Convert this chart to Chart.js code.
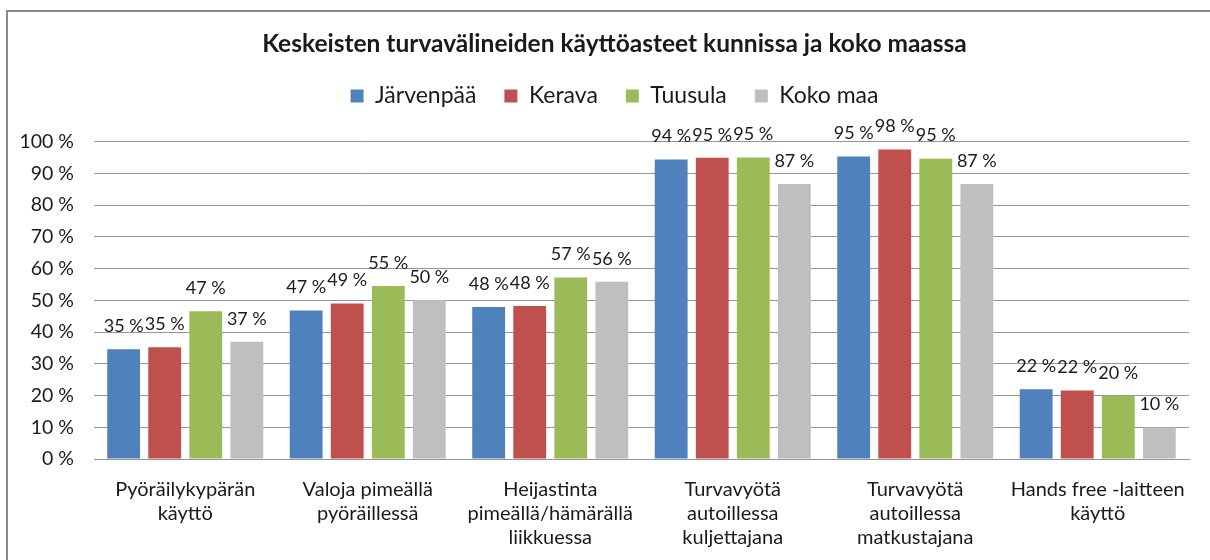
<!DOCTYPE html>
<html>
<head>
<meta charset="utf-8">
<script src="https://cdn.jsdelivr.net/npm/chart.js@4/dist/chart.umd.min.js"></script>
<style>
  html, body { margin: 0; padding: 0; background: #ffffff; }
  #wrap { position: relative; width: 1210px; height: 560px; }
</style>
</head>
<body>
<div id="wrap"><canvas id="c" width="1210" height="560"></canvas></div>
<script>
const chartTitle = "Keskeisten turvavälineiden käyttöasteet kunnissa ja koko maassa";
const categories = [
  ["Pyöräilykypärän", "käyttö"],
  ["Valoja pimeällä", "pyöräillessä"],
  ["Heijastinta", "pimeällä/hämärällä", "liikkuessa"],
  ["Turvavyötä", "autoillessa", "kuljettajana"],
  ["Turvavyötä", "autoillessa", "matkustajana"],
  ["Hands free -laitteen", "käyttö"]
];
const seriesNames = ["Järvenpää", "Kerava", "Tuusula", "Koko maa"];
const jarvenpaa = [34.6, 46.8, 47.9, 94.3, 95.3, 22.0];
const kerava    = [35.2, 49.0, 48.2, 94.9, 97.5, 21.6];
const tuusula   = [46.5, 54.5, 57.2, 95.0, 94.6, 19.9];
const kokoMaa   = [36.9, 50.0, 55.8, 86.6, 86.6, 9.9];
const seriesColors = ["#4F81BD", "#C0504D", "#9BBB59", "#BFBFBF"];
const yTicks = [0, 10, 20, 30, 40, 50, 60, 70, 80, 90, 100];

const FONT = "Lato, Carlito, 'Open Sans', sans-serif";
const TEXT = "#1a1a1a";

const frame = {
  id: 'frame',
  beforeInit(chart) {
    if (chart.legend) {
      const origFit = chart.legend.fit;
      chart.legend.fit = function () {
        origFit.call(this);
        this.height += 24;
      };
    }
  },
  afterLayout(chart) {
    if (chart.titleBlock) chart.titleBlock.left += 40;
    if (chart.legend) chart.legend.left += 40;
  },
  beforeDraw(chart) {
    const ctx = chart.ctx;
    ctx.save();
    ctx.fillStyle = '#ffffff';
    ctx.fillRect(0, 0, chart.width, chart.height);
    ctx.strokeStyle = '#8a8a8a';
    ctx.lineWidth = 2;
    ctx.beginPath();
    ctx.moveTo(7, chart.height);
    ctx.lineTo(7, 11);
    ctx.lineTo(chart.width, 11);
    ctx.stroke();
    ctx.restore();
  }
};

const valueLabels = {
  id: 'valueLabels',
  afterDatasetsDraw(chart) {
    const ctx = chart.ctx;
    ctx.save();
    ctx.font = "18px " + FONT;
    ctx.fillStyle = TEXT;
    ctx.textAlign = 'center';
    ctx.textBaseline = 'middle';
    chart.data.datasets.forEach((ds, i) => {
      const meta = chart.getDatasetMeta(i);
      meta.data.forEach((el, j) => {
        ctx.fillText(Math.round(ds.data[j]) + " %", el.x, el.y - 23);
      });
    });
    ctx.restore();
  }
};

const datasets = [jarvenpaa, kerava, tuusula, kokoMaa].map((d, i) => ({
  label: seriesNames[i],
  data: d,
  backgroundColor: seriesColors[i],
  borderWidth: 0,
  categoryPercentage: 0.9,
  barPercentage: 0.8
}));

new Chart(document.getElementById('c'), {
  type: 'bar',
  data: { labels: categories, datasets },
  plugins: [frame, valueLabels],
  options: {
    responsive: false,
    animation: false,
    layout: { padding: { top: 22, right: 21, left: 0, bottom: 0 } },
    plugins: {
      title: {
        display: true,
        text: chartTitle,
        color: TEXT,
        font: { family: FONT, size: 24.5, weight: 'bold', lineHeight: 1.0 },
        padding: { top: 10, bottom: 0 }
      },
      legend: {
        display: true,
        position: 'top',
        labels: {
          color: TEXT,
          font: { family: FONT, size: 23 },
          boxWidth: 13,
          boxHeight: 13,
          padding: 28
        }
      },
      tooltip: { enabled: false }
    },
    scales: {
      x: {
        grid: { display: false, drawTicks: false },
        border: { display: true, color: '#969696', width: 1 },
        ticks: {
          color: TEXT,
          font: { family: FONT, size: 20, lineHeight: 1.2 },
          padding: 19,
          maxRotation: 0,
          autoSkip: false
        },
        afterFit(scale) { scale.height = 101; }
      },
      y: {
        min: 0,
        max: 100,
        afterBuildTicks(scale) { scale.ticks = yTicks.map(v => ({ value: v })); },
        grid: { color: '#969696', lineWidth: 1, drawTicks: false },
        border: { display: false },
        ticks: {
          color: TEXT,
          font: { family: FONT, size: 19.5 },
          padding: 20,
          callback: v => v + " %"
        },
        afterFit(scale) { scale.width = 94; }
      }
    }
  }
});
</script>
</body>
</html>
